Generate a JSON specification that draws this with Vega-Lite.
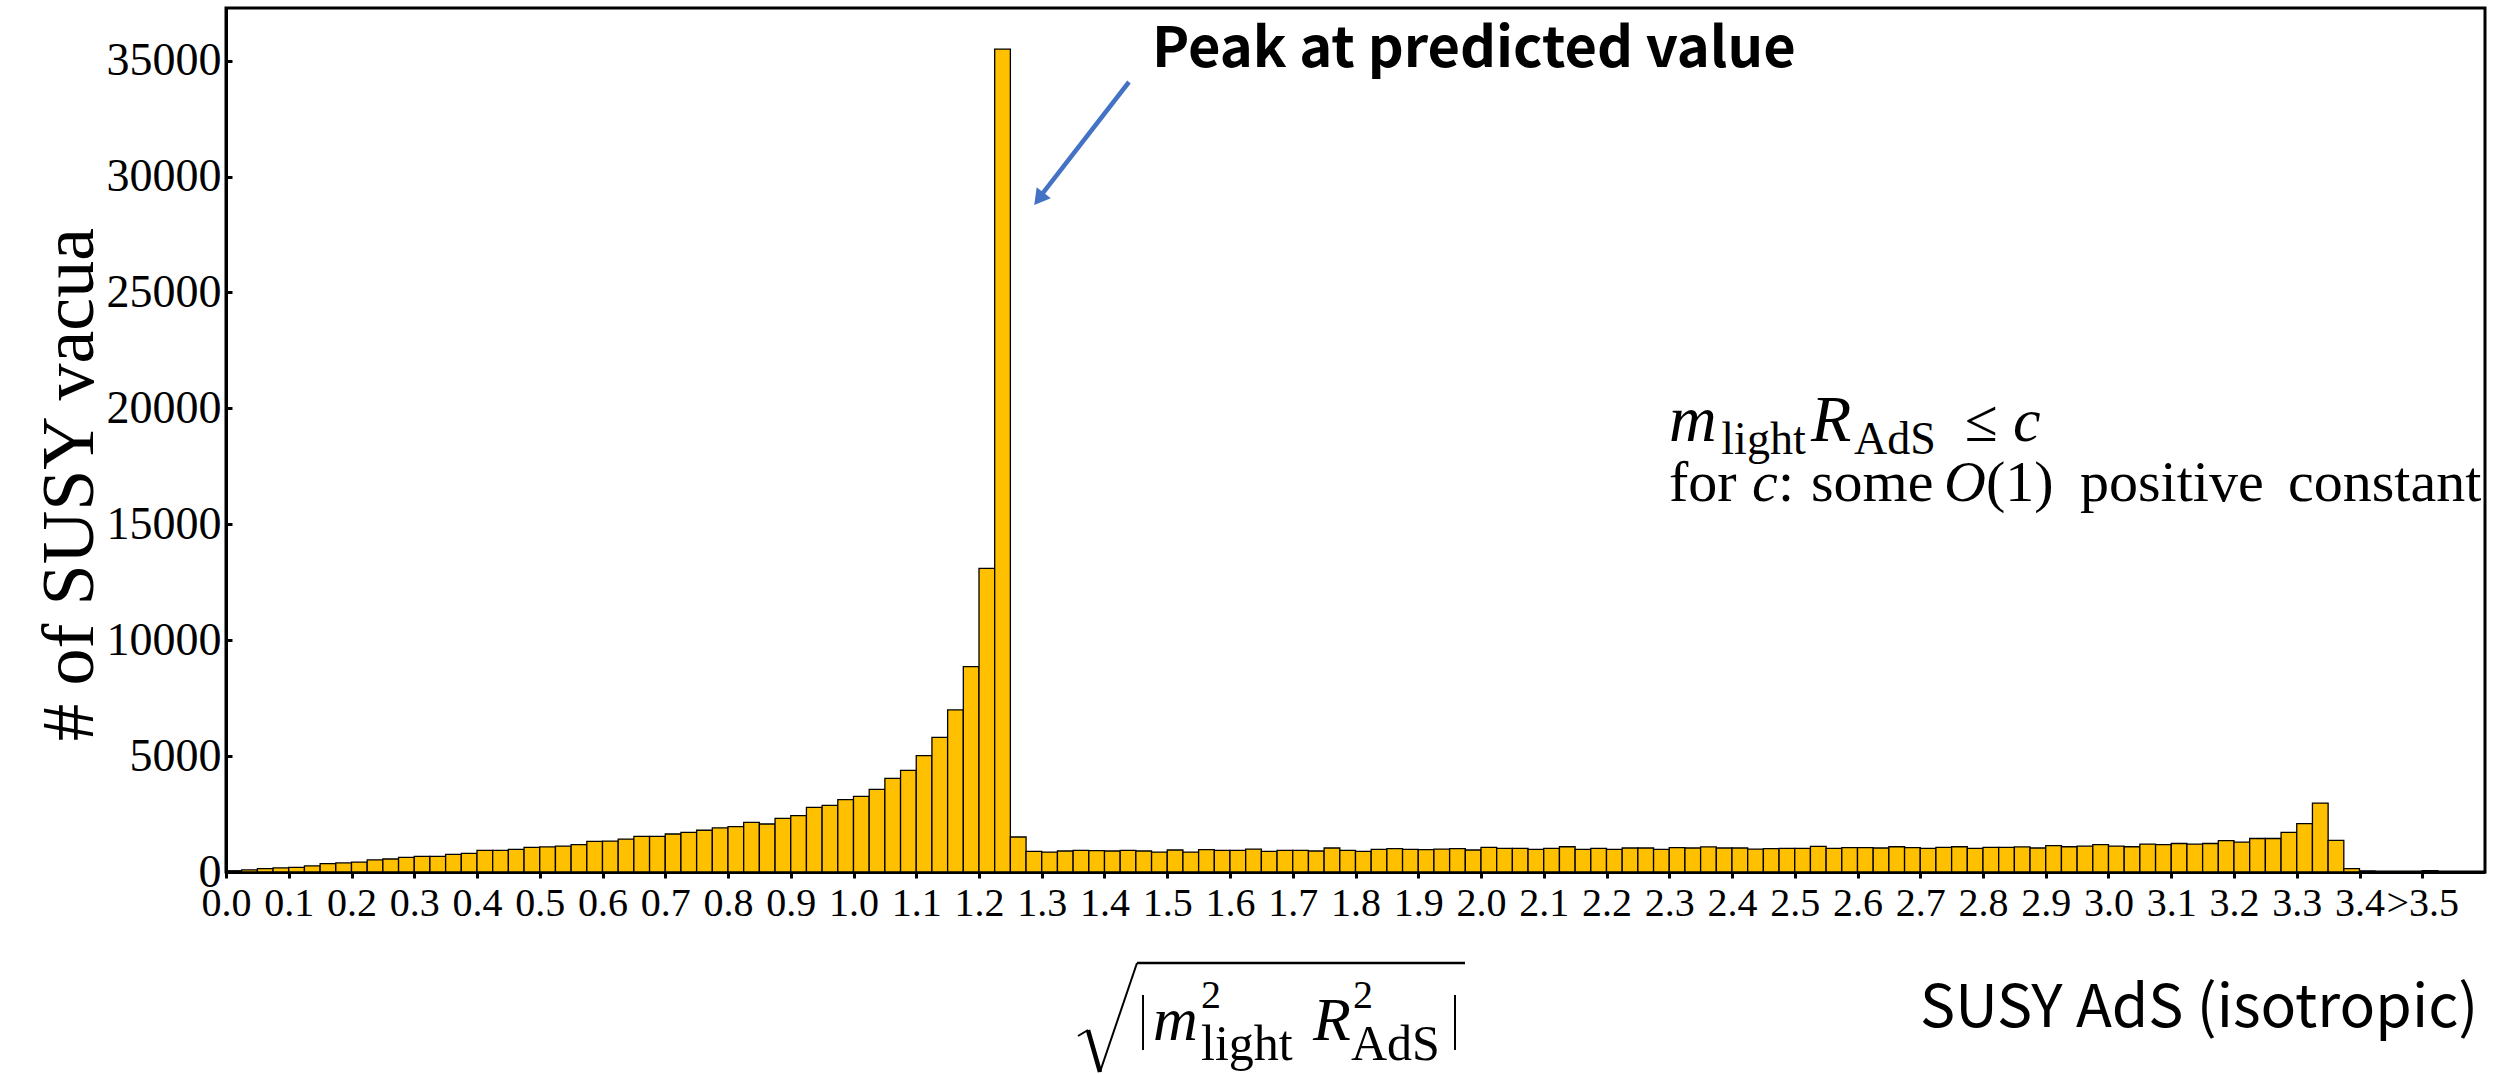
{
  "$schema": "https://vega.github.io/schema/vega-lite/v6.json",
  "width": 2259,
  "height": 864,
  "autosize": {"type": "none"},
  "padding": {"left": 226, "top": 8, "right": 24, "bottom": 202},
  "background": "white",
  "config": {
    "view": {"stroke": "black", "strokeWidth": 3},
    "axis": {"grid": false, "domainColor": "black", "domainWidth": 3, "tickColor": "black", "tickWidth": 3, "labelColor": "black", "titleColor": "black"}
  },
  "datasets": {
    "hist": [
      {"lo":0,"hi":0.025,"n":50},{"lo":0.025,"hi":0.05,"n":90},{"lo":0.05,"hi":0.075,"n":145},{"lo":0.075,"hi":0.1,"n":175},
      {"lo":0.1,"hi":0.125,"n":200},{"lo":0.125,"hi":0.15,"n":260},{"lo":0.15,"hi":0.175,"n":360},{"lo":0.175,"hi":0.2,"n":390},
      {"lo":0.2,"hi":0.225,"n":430},{"lo":0.225,"hi":0.25,"n":520},{"lo":0.25,"hi":0.275,"n":560},{"lo":0.275,"hi":0.3,"n":630},
      {"lo":0.3,"hi":0.325,"n":675},{"lo":0.325,"hi":0.35,"n":675},{"lo":0.35,"hi":0.375,"n":760},{"lo":0.375,"hi":0.4,"n":805},
      {"lo":0.4,"hi":0.425,"n":935},{"lo":0.425,"hi":0.45,"n":935},{"lo":0.45,"hi":0.475,"n":980},{"lo":0.475,"hi":0.5,"n":1065},
      {"lo":0.5,"hi":0.525,"n":1080},{"lo":0.525,"hi":0.55,"n":1120},{"lo":0.55,"hi":0.575,"n":1180},{"lo":0.575,"hi":0.6,"n":1320},
      {"lo":0.6,"hi":0.625,"n":1335},{"lo":0.625,"hi":0.65,"n":1420},{"lo":0.65,"hi":0.675,"n":1540},{"lo":0.675,"hi":0.7,"n":1540},
      {"lo":0.7,"hi":0.725,"n":1640},{"lo":0.725,"hi":0.75,"n":1710},{"lo":0.75,"hi":0.775,"n":1800},{"lo":0.775,"hi":0.8,"n":1900},
      {"lo":0.8,"hi":0.825,"n":1955},{"lo":0.825,"hi":0.85,"n":2140},{"lo":0.85,"hi":0.875,"n":2070},{"lo":0.875,"hi":0.9,"n":2315},
      {"lo":0.9,"hi":0.925,"n":2430},{"lo":0.925,"hi":0.95,"n":2790},{"lo":0.95,"hi":0.975,"n":2875},{"lo":0.975,"hi":1.0,"n":3120},
      {"lo":1.0,"hi":1.025,"n":3265},{"lo":1.025,"hi":1.05,"n":3565},{"lo":1.05,"hi":1.075,"n":4040},{"lo":1.075,"hi":1.1,"n":4385},
      {"lo":1.1,"hi":1.125,"n":5020},{"lo":1.125,"hi":1.15,"n":5810},{"lo":1.15,"hi":1.175,"n":6990},{"lo":1.175,"hi":1.2,"n":8860},
      {"lo":1.2,"hi":1.225,"n":13100},{"lo":1.225,"hi":1.25,"n":35500},{"lo":1.25,"hi":1.275,"n":1510},{"lo":1.275,"hi":1.3,"n":890},
      {"lo":1.3,"hi":1.325,"n":860},{"lo":1.325,"hi":1.35,"n":905},{"lo":1.35,"hi":1.375,"n":935},{"lo":1.375,"hi":1.4,"n":920},
      {"lo":1.4,"hi":1.425,"n":905},{"lo":1.425,"hi":1.45,"n":935},{"lo":1.45,"hi":1.475,"n":905},{"lo":1.475,"hi":1.5,"n":860},
      {"lo":1.5,"hi":1.525,"n":950},{"lo":1.525,"hi":1.55,"n":860},{"lo":1.55,"hi":1.575,"n":965},{"lo":1.575,"hi":1.6,"n":935},
      {"lo":1.6,"hi":1.625,"n":935},{"lo":1.625,"hi":1.65,"n":990},{"lo":1.65,"hi":1.675,"n":890},{"lo":1.675,"hi":1.7,"n":935},
      {"lo":1.7,"hi":1.725,"n":935},{"lo":1.725,"hi":1.75,"n":905},{"lo":1.75,"hi":1.775,"n":1035},{"lo":1.775,"hi":1.8,"n":935},
      {"lo":1.8,"hi":1.825,"n":890},{"lo":1.825,"hi":1.85,"n":980},{"lo":1.85,"hi":1.875,"n":1005},{"lo":1.875,"hi":1.9,"n":980},
      {"lo":1.9,"hi":1.925,"n":965},{"lo":1.925,"hi":1.95,"n":990},{"lo":1.95,"hi":1.975,"n":1005},{"lo":1.975,"hi":2.0,"n":950},
      {"lo":2.0,"hi":2.025,"n":1065},{"lo":2.025,"hi":2.05,"n":1020},{"lo":2.05,"hi":2.075,"n":1020},{"lo":2.075,"hi":2.1,"n":980},
      {"lo":2.1,"hi":2.125,"n":1020},{"lo":2.125,"hi":2.15,"n":1090},{"lo":2.15,"hi":2.175,"n":980},{"lo":2.175,"hi":2.2,"n":1020},
      {"lo":2.2,"hi":2.225,"n":980},{"lo":2.225,"hi":2.25,"n":1035},{"lo":2.25,"hi":2.275,"n":1035},{"lo":2.275,"hi":2.3,"n":980},
      {"lo":2.3,"hi":2.325,"n":1050},{"lo":2.325,"hi":2.35,"n":1035},{"lo":2.35,"hi":2.375,"n":1080},{"lo":2.375,"hi":2.4,"n":1035},
      {"lo":2.4,"hi":2.425,"n":1035},{"lo":2.425,"hi":2.45,"n":990},{"lo":2.45,"hi":2.475,"n":1005},{"lo":2.475,"hi":2.5,"n":1020},
      {"lo":2.5,"hi":2.525,"n":1020},{"lo":2.525,"hi":2.55,"n":1105},{"lo":2.55,"hi":2.575,"n":1020},{"lo":2.575,"hi":2.6,"n":1050},
      {"lo":2.6,"hi":2.625,"n":1050},{"lo":2.625,"hi":2.65,"n":1035},{"lo":2.65,"hi":2.675,"n":1090},{"lo":2.675,"hi":2.7,"n":1050},
      {"lo":2.7,"hi":2.725,"n":1020},{"lo":2.725,"hi":2.75,"n":1065},{"lo":2.75,"hi":2.775,"n":1090},{"lo":2.775,"hi":2.8,"n":1020},
      {"lo":2.8,"hi":2.825,"n":1065},{"lo":2.825,"hi":2.85,"n":1065},{"lo":2.85,"hi":2.875,"n":1080},{"lo":2.875,"hi":2.9,"n":1035},
      {"lo":2.9,"hi":2.925,"n":1140},{"lo":2.925,"hi":2.95,"n":1090},{"lo":2.95,"hi":2.975,"n":1115},{"lo":2.975,"hi":3.0,"n":1180},
      {"lo":3.0,"hi":3.025,"n":1115},{"lo":3.025,"hi":3.05,"n":1090},{"lo":3.05,"hi":3.075,"n":1200},{"lo":3.075,"hi":3.1,"n":1180},
      {"lo":3.1,"hi":3.125,"n":1230},{"lo":3.125,"hi":3.15,"n":1200},{"lo":3.15,"hi":3.175,"n":1230},{"lo":3.175,"hi":3.2,"n":1350},
      {"lo":3.2,"hi":3.225,"n":1290},{"lo":3.225,"hi":3.25,"n":1445},{"lo":3.25,"hi":3.275,"n":1445},{"lo":3.275,"hi":3.3,"n":1705},
      {"lo":3.3,"hi":3.325,"n":2090},{"lo":3.325,"hi":3.35,"n":2975},{"lo":3.35,"hi":3.375,"n":1365},{"lo":3.375,"hi":3.4,"n":145},
      {"lo":3.4,"hi":3.425,"n":40},{"lo":3.425,"hi":3.45,"n":10},{"lo":3.45,"hi":3.475,"n":10},{"lo":3.475,"hi":3.5,"n":10},
      {"lo":3.5,"hi":3.525,"n":60}
    ]
  },
  "layer": [
    {
      "data": {"name": "hist"},
      "mark": {"type": "bar", "fill": "#FFC000", "stroke": "black", "strokeWidth": 1.3},
      "encoding": {
        "x": {
          "field": "lo", "type": "quantitative",
          "scale": {"domain": [0, 3.6], "nice": false, "zero": false},
          "axis": {
            "title": null,
            "values": [0,0.1,0.2,0.3,0.4,0.5,0.6,0.7,0.8,0.9,1.0,1.1,1.2,1.3,1.4,1.5,1.6,1.7,1.8,1.9,2.0,2.1,2.2,2.3,2.4,2.5,2.6,2.7,2.8,2.9,3.0,3.1,3.2,3.3,3.4,3.5],
            "labelExpr": "datum.value > 3.45 ? '>3.5' : format(datum.value, '.1f')",
            "labelFont": "Liberation Serif", "labelFontSize": 40,
            "labelBaseline": "alphabetic", "labelPadding": 37,
            "tickSize": 6, "labelOverlap": false, "labelFlush": false, "labelBound": false
          }
        },
        "x2": {"field": "hi"},
        "y": {
          "field": "n", "type": "quantitative",
          "scale": {"domain": [0, 37270], "nice": false},
          "axis": {
            "title": "# of SUSY vacua",
            "values": [0,5000,10000,15000,20000,25000,30000,35000],
            "format": "d",
            "labelFont": "Liberation Serif", "labelFontSize": 46,
            "labelPadding": 11, "tickSize": -6,
            "labelOverlap": false, "labelFlush": false, "labelBound": false,
            "titleFont": "Liberation Serif", "titleFontSize": 74, "titleFontWeight": "normal",
            "titleX": -134, "titleY": 476, "titleAngle": 270, "titleAlign": "center", "titleBaseline": "alphabetic"
          }
        },
        "y2": {"datum": 0}
      }
    },
    {"data": {"values": [{}]}, "mark": {"type": "text", "text": "Peak at predicted value", "font": "Noto Sans CJK JP", "fontWeight": "bold", "fontSize": 56, "align": "left", "baseline": "alphabetic", "color": "black"}, "encoding": {"x": {"datum": 1.4757}, "y": {"datum": 34725}}},
    {"data": {"values": [{}]}, "mark": {"type": "rule", "color": "#4472C4", "strokeWidth": 4.5}, "encoding": {"x": {"datum": 1.4390}, "y": {"datum": 34078}, "x2": {"datum": 1.3020}, "y2": {"datum": 29290}}},
    {"data": {"values": [{}]}, "mark": {"type": "point", "shape": "triangle-up", "filled": true, "color": "#4472C4", "opacity": 1, "size": 320, "angle": 217.7}, "encoding": {"x": {"datum": 1.2956}, "y": {"datum": 29039}}},

    {"data": {"values": [{}]}, "mark": {"type": "text", "text": "m", "font": "Liberation Serif", "fontStyle": "italic", "fontSize": 66, "align": "left", "baseline": "alphabetic", "color": "black"}, "encoding": {"x": {"datum": 2.2996}, "y": {"datum": 18590}}},
    {"data": {"values": [{}]}, "mark": {"type": "text", "text": "light", "font": "Liberation Serif", "fontSize": 46, "align": "left", "baseline": "alphabetic", "color": "black"}, "encoding": {"x": {"datum": 2.3830}, "y": {"datum": 18030}}},
    {"data": {"values": [{}]}, "mark": {"type": "text", "text": "R", "font": "Liberation Serif", "fontStyle": "italic", "fontSize": 66, "align": "left", "baseline": "alphabetic", "color": "black"}, "encoding": {"x": {"datum": 2.5260}, "y": {"datum": 18590}}},
    {"data": {"values": [{}]}, "mark": {"type": "text", "text": "AdS", "font": "Liberation Serif", "fontSize": 46, "align": "left", "baseline": "alphabetic", "color": "black"}, "encoding": {"x": {"datum": 2.5945}, "y": {"datum": 18030}}},
    {"data": {"values": [{}]}, "mark": {"type": "text", "text": "≤", "font": "Liberation Serif", "fontSize": 60, "align": "left", "baseline": "alphabetic", "color": "black"}, "encoding": {"x": {"datum": 2.7713}, "y": {"datum": 18590}}},
    {"data": {"values": [{}]}, "mark": {"type": "text", "text": "c", "font": "Liberation Serif", "fontStyle": "italic", "fontSize": 62, "align": "left", "baseline": "alphabetic", "color": "black"}, "encoding": {"x": {"datum": 2.8478}, "y": {"datum": 18590}}},

    {"data": {"values": [{}]}, "mark": {"type": "text", "text": "for", "font": "Liberation Serif", "fontSize": 58, "align": "left", "baseline": "alphabetic", "color": "black"}, "encoding": {"x": {"datum": 2.2996}, "y": {"datum": 16000}}},
    {"data": {"values": [{}]}, "mark": {"type": "text", "text": "c", "font": "Liberation Serif", "fontStyle": "italic", "fontSize": 58, "align": "left", "baseline": "alphabetic", "color": "black"}, "encoding": {"x": {"datum": 2.4319}, "y": {"datum": 16000}}},
    {"data": {"values": [{}]}, "mark": {"type": "text", "text": ":", "font": "Liberation Serif", "fontSize": 58, "align": "left", "baseline": "alphabetic", "color": "black"}, "encoding": {"x": {"datum": 2.4733}, "y": {"datum": 16000}}},
    {"data": {"values": [{}]}, "mark": {"type": "text", "text": "some", "font": "Liberation Serif", "fontSize": 58, "align": "left", "baseline": "alphabetic", "color": "black"}, "encoding": {"x": {"datum": 2.5259}, "y": {"datum": 16000}}},
    {"data": {"values": [{}]}, "mark": {"type": "text", "text": "O", "font": "Liberation Serif", "fontStyle": "italic", "fontSize": 58, "align": "left", "baseline": "alphabetic", "color": "black"}, "encoding": {"x": {"datum": 2.7378}, "y": {"datum": 16000}}},
    {"data": {"values": [{}]}, "mark": {"type": "text", "text": "(1)", "font": "Liberation Serif", "fontSize": 58, "align": "left", "baseline": "alphabetic", "color": "black"}, "encoding": {"x": {"datum": 2.8048}, "y": {"datum": 16000}}},
    {"data": {"values": [{}]}, "mark": {"type": "text", "text": "positive", "font": "Liberation Serif", "fontSize": 58, "align": "left", "baseline": "alphabetic", "color": "black"}, "encoding": {"x": {"datum": 2.9546}, "y": {"datum": 16000}}},
    {"data": {"values": [{}]}, "mark": {"type": "text", "text": "constant", "font": "Liberation Serif", "fontSize": 58, "align": "left", "baseline": "alphabetic", "color": "black"}, "encoding": {"x": {"datum": 3.2861}, "y": {"datum": 16000}}},

    {"data": {"values": [{}]}, "mark": {"type": "rule", "color": "black", "strokeWidth": 2}, "encoding": {"x": {"datum": 1.3578}, "y": {"datum": -7074}, "x2": {"datum": 1.3737}, "y2": {"datum": -6816}}},
    {"data": {"values": [{}]}, "mark": {"type": "rule", "color": "black", "strokeWidth": 4.5}, "encoding": {"x": {"datum": 1.3737}, "y": {"datum": -6816}, "x2": {"datum": 1.3928}, "y2": {"datum": -8627}}},
    {"data": {"values": [{}]}, "mark": {"type": "rule", "color": "black", "strokeWidth": 2}, "encoding": {"x": {"datum": 1.3928}, "y": {"datum": -8627}, "x2": {"datum": 1.4518}, "y2": {"datum": -3925}}},
    {"data": {"values": [{}]}, "mark": {"type": "rule", "color": "black", "strokeWidth": 2.5}, "encoding": {"x": {"datum": 1.4518}, "y": {"datum": -3925}, "x2": {"datum": 1.9745}, "y2": {"datum": -3925}}},
    {"data": {"values": [{}]}, "mark": {"type": "rule", "color": "black", "strokeWidth": 2}, "encoding": {"x": {"datum": 1.4614}, "y": {"datum": -5306}, "x2": {"datum": 1.4614}, "y2": {"datum": -7678}}},
    {"data": {"values": [{}]}, "mark": {"type": "rule", "color": "black", "strokeWidth": 2}, "encoding": {"x": {"datum": 1.9586}, "y": {"datum": -5306}, "x2": {"datum": 1.9586}, "y2": {"datum": -7678}}},
    {"data": {"values": [{}]}, "mark": {"type": "text", "text": "m", "font": "Liberation Serif", "fontStyle": "italic", "fontSize": 62, "align": "left", "baseline": "alphabetic", "color": "black"}, "encoding": {"x": {"datum": 1.4773}, "y": {"datum": -7247}}},
    {"data": {"values": [{}]}, "mark": {"type": "text", "text": "2", "font": "Liberation Serif", "fontSize": 40, "align": "left", "baseline": "alphabetic", "color": "black"}, "encoding": {"x": {"datum": 1.5538}, "y": {"datum": -5867}}},
    {"data": {"values": [{}]}, "mark": {"type": "text", "text": "light", "font": "Liberation Serif", "fontSize": 50, "align": "left", "baseline": "alphabetic", "color": "black"}, "encoding": {"x": {"datum": 1.5538}, "y": {"datum": -8110}}},
    {"data": {"values": [{}]}, "mark": {"type": "text", "text": "R", "font": "Liberation Serif", "fontStyle": "italic", "fontSize": 62, "align": "left", "baseline": "alphabetic", "color": "black"}, "encoding": {"x": {"datum": 1.7323}, "y": {"datum": -7247}}},
    {"data": {"values": [{}]}, "mark": {"type": "text", "text": "2", "font": "Liberation Serif", "fontSize": 40, "align": "left", "baseline": "alphabetic", "color": "black"}, "encoding": {"x": {"datum": 1.7960}, "y": {"datum": -5867}}},
    {"data": {"values": [{}]}, "mark": {"type": "text", "text": "AdS", "font": "Liberation Serif", "fontSize": 50, "align": "left", "baseline": "alphabetic", "color": "black"}, "encoding": {"x": {"datum": 1.7928}, "y": {"datum": -8110}}},

    {"data": {"values": [{}]}, "mark": {"type": "text", "text": "SUSY AdS (isotropic)", "font": "Noto Sans CJK JP", "fontSize": 59, "align": "left", "baseline": "alphabetic", "color": "black"}, "encoding": {"x": {"datum": 2.6996}, "y": {"datum": -6686}}}
  ]
}
